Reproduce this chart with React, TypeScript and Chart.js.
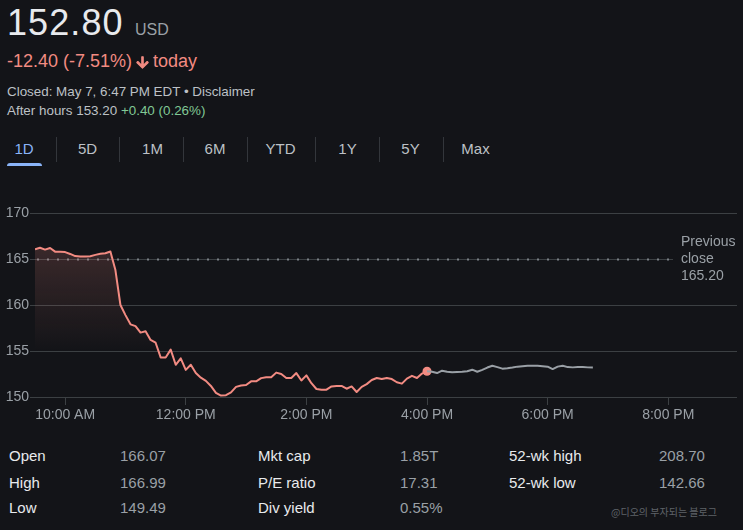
import React, { useEffect, useRef } from "react";
import { Chart, registerables } from "chart.js";

Chart.register(...registerables);

// ---------- data ----------
const PRICE = "152.80";
const CURRENCY = "USD";
const CHANGE_TEXT = "-12.40 (-7.51%)";
const CHANGE_SUFFIX = "today";
const CLOSED_TEXT = "Closed: May 7, 6:47 PM EDT • Disclaimer";
const AFTER_LABEL = "After hours 153.20";
const AFTER_CHANGE = "+0.40 (0.26%)";
const RANGE_TABS = ["1D", "5D", "1M", "6M", "YTD", "1Y", "5Y", "Max"];

const REGULAR_START_HOUR = 9.5; // 9:30 AM
const AFTER_START_HOUR = 16; // 4:00 PM
const STEP_MINUTES = 5;

const REGULAR_PRICES = [
  166.05, 166.22, 166.02, 166.2, 165.8, 165.78, 165.75, 165.55, 165.32, 165.28,
  165.28, 165.3, 165.45, 165.57, 165.62, 165.82, 163.8, 160.0, 158.9, 157.9,
  157.7, 157.0, 157.15, 156.2, 155.9, 154.3, 154.3, 155.15, 153.5, 154.2,
  152.95, 153.5, 152.6, 152.1, 151.75, 151.2, 150.45, 150.15, 150.2, 150.5,
  151.1, 151.25, 151.3, 151.7, 151.7, 152.05, 152.15, 152.15, 152.65, 152.5,
  152.07, 152.07, 152.6, 151.8, 152.35, 151.5, 150.87, 150.8, 150.8, 151.15,
  151.2, 151.2, 150.9, 151.15, 150.54, 151.1, 151.4, 151.85, 152.07, 151.95,
  152.07, 151.95, 151.6, 151.45, 152.0, 152.3, 152.07, 152.55, 152.8,
];

const AFTER_HOURS_PRICES = [
  152.8, 152.75, 152.6, 152.86, 152.75, 152.7, 152.72, 152.75, 152.8, 152.97,
  152.75, 152.95, 153.2, 153.4, 153.25, 153.08, 153.12, 153.2, 153.3, 153.35,
  153.4, 153.4, 153.4, 153.35, 153.3, 153.04, 153.3, 153.4, 153.25, 153.22,
  153.25, 153.25, 153.22, 153.2,
];

const PREV_CLOSE = 165.2;
const Y_MIN = 150;
const Y_MAX = 170;
const Y_TICKS = [150, 155, 160, 165, 170];
const X_MIN = 9.5;
const X_MAX = 21.14;
const X_TICKS = [10, 12, 14, 16, 18, 20];
const X_TICK_LABELS = ["10:00 AM", "12:00 PM", "2:00 PM", "4:00 PM", "6:00 PM", "8:00 PM"];

const STAT_COL1_LABELS = ["Open", "High", "Low"];
const STAT_COL1_VALUES = ["166.07", "166.99", "149.49"];
const STAT_COL2_LABELS = ["Mkt cap", "P/E ratio", "Div yield"];
const STAT_COL2_VALUES = ["1.85T", "17.31", "0.55%"];
const STAT_COL3_LABELS = ["52-wk high", "52-wk low"];
const STAT_COL3_VALUES = ["208.70", "142.66"];
const WATERMARK = "@디오의 부자되는 블로그";

// ---------- style ----------
const FONT = "'Liberation Sans', Arial, Helvetica, sans-serif";
const BG = "#131418";
const WHITE = "#e8eaed";
const GREY = "#9aa0a6";
const LIGHT_GREY = "#bdc1c6";
const RED = "#f28b82";
const GREEN = "#81c995";
const BLUE = "#8ab4f8";
const GRID = "#3c4043";

const TAB_CENTERS = [24, 87.5, 152.5, 215, 280.5, 347.5, 410.5, 475.5];
const TAB_SEPARATORS = [56, 119, 183, 247, 315, 379, 443];

function Txt(props: {
  x: number;
  baseline: number;
  size: number;
  color: string;
  children: React.ReactNode;
  center?: boolean;
  family?: string;
  spacing?: number;
}) {
  const { x, baseline, size, color, children, center, family, spacing } = props;
  return (
    <div
      style={{
        position: "absolute",
        left: x,
        top: baseline - 0.8465 * size,
        fontSize: size,
        lineHeight: `${size}px`,
        color,
        whiteSpace: "nowrap",
        fontFamily: family || FONT,
        letterSpacing: spacing ? `${spacing}px` : undefined,
        transform: center ? "translateX(-50%)" : undefined,
      }}
    >
      {children}
    </div>
  );
}

function nearestGridValue() {
  return Y_TICKS.reduce((a, b) => (Math.abs(b - PREV_CLOSE) < Math.abs(a - PREV_CLOSE) ? b : a));
}

const prevClosePlugin = {
  id: "prevClose",
  beforeDatasetsDraw(chart: any) {
    const { ctx, chartArea, scales } = chart;
    const py = Math.round(scales.y.getPixelForValue(nearestGridValue())) + 0.5;
    const endX = chartArea.right - 64;
    ctx.save();
    ctx.strokeStyle = GRID;
    ctx.lineWidth = 1;
    ctx.beginPath();
    ctx.moveTo(chartArea.left - 5, py);
    ctx.lineTo(endX, py);
    ctx.stroke();
    ctx.fillStyle = "#7b8086";
    for (let x = chartArea.left + 2; x < endX; x += 10) {
      ctx.fillRect(x, py - 1, 2, 2);
    }
    ctx.restore();
  },
  afterDraw(chart: any) {
    const { ctx, chartArea, scales } = chart;
    const py = Math.round(scales.y.getPixelForValue(nearestGridValue()));
    const x = chartArea.right - 56;
    ctx.save();
    ctx.fillStyle = GREY;
    ctx.font = `14px ${FONT}`;
    ctx.textAlign = "left";
    ctx.textBaseline = "middle";
    ctx.fillText("Previous", x, py - 17);
    ctx.fillText("close", x, py);
    ctx.fillText(PREV_CLOSE.toFixed(2), x, py + 17);
    ctx.restore();
  },
};

function PriceChart() {
  const ref = useRef<HTMLCanvasElement | null>(null);
  useEffect(() => {
    if (!ref.current) return;
    const step = STEP_MINUTES / 60;
    const regular = REGULAR_PRICES.map((v, i) => ({ x: REGULAR_START_HOUR + i * step, y: v }));
    const after = AFTER_HOURS_PRICES.map((v, i) => ({ x: AFTER_START_HOUR + i * step, y: v }));
    const lastIdx = regular.length - 1;
    const chart = new Chart(ref.current, {
      type: "line",
      data: {
        datasets: [
          {
            data: after,
            borderColor: GREY,
            borderWidth: 2,
            pointRadius: 0,
            tension: 0,
            fill: false,
            borderJoinStyle: "round",
          },
          {
            data: regular,
            borderColor: RED,
            borderWidth: 2,
            tension: 0,
            borderJoinStyle: "round",
            pointRadius: (c: any) => (c.dataIndex === lastIdx ? 4.5 : 0),
            pointBackgroundColor: RED,
            pointBorderWidth: 0,
            fill: "start",
            backgroundColor: (c: any) => {
              const area = c.chart.chartArea;
              if (!area) return "transparent";
              const g = c.chart.ctx.createLinearGradient(0, area.top, 0, area.top + (area.bottom - area.top) * 0.76);
              g.addColorStop(0, "rgba(242,139,130,0.26)");
              g.addColorStop(0.2, "rgba(242,139,130,0.19)");
              g.addColorStop(1, "rgba(242,139,130,0)");
              return g;
            },
          },
        ],
      },
      options: {
        responsive: false,
        animation: false,
        events: [],
        layout: { padding: { top: 18, right: 6, left: 0, bottom: 0 } },
        plugins: { legend: { display: false }, tooltip: { enabled: false } },
        scales: {
          x: {
            type: "linear",
            min: X_MIN,
            max: X_MAX,
            afterBuildTicks: (s: any) => {
              s.ticks = X_TICKS.map((v) => ({ value: v }));
            },
            afterFit: (s: any) => {
              s.height = 33;
            },
            grid: { drawOnChartArea: false, drawTicks: true, tickLength: 8, color: GRID, tickColor: GRID },
            border: { display: false },
            ticks: {
              color: GREY,
              font: { size: 14, family: FONT },
              padding: 2,
              maxRotation: 0,
              autoSkip: false,
              callback: (v: any) => X_TICK_LABELS[X_TICKS.indexOf(Number(v))],
            },
          },
          y: {
            min: Y_MIN,
            max: Y_MAX,
            afterBuildTicks: (s: any) => {
              s.ticks = Y_TICKS.map((v) => ({ value: v }));
            },
            afterFit: (s: any) => {
              s.width = 35;
            },
            grid: {
              color: (c: any) => (c.tick && c.tick.value === nearestGridValue() ? "transparent" : GRID),
              tickLength: 5,
            },
            border: { display: false },
            ticks: { color: GREY, font: { size: 14, family: FONT }, padding: 1 },
          },
        },
      } as any,
      plugins: [prevClosePlugin],
    });
    return () => chart.destroy();
  }, []);
  return (
    <canvas
      ref={ref}
      width={743}
      height={235}
      style={{ position: "absolute", left: 0, top: 195, width: 743, height: 235 }}
    />
  );
}

export default function App() {
  const rowBase = [461, 487.5, 513];
  return (
    <div
      style={{
        position: "fixed",
        left: 0,
        top: 0,
        width: 743,
        height: 530,
        background: BG,
        overflow: "hidden",
        fontFamily: FONT,
      }}
    >
      <Txt x={7} baseline={35} size={36} color={WHITE} spacing={1.1}>
        {PRICE}
      </Txt>
      <Txt x={135} baseline={35.7} size={16} color={GREY}>
        {CURRENCY}
      </Txt>
      <Txt x={7} baseline={67.7} size={18} color={RED}>
        {CHANGE_TEXT}
      </Txt>
      <svg style={{ position: "absolute", left: 134, top: 54 }} width={17} height={17} viewBox="0 0 24 24">
        <path
          fill={RED}
          stroke={RED}
          strokeWidth={1.6}
          strokeLinejoin="round"
          d="M20 12l-1.41-1.41L13 16.17V4h-2v12.17l-5.58-5.59L4 12l8 8 8-8z"
        />
      </svg>
      <Txt x={153} baseline={67.7} size={18} color={RED}>
        {CHANGE_SUFFIX}
      </Txt>
      <Txt x={7} baseline={96.7} size={13.4} color={LIGHT_GREY}>
        {CLOSED_TEXT}
      </Txt>
      <Txt x={7} baseline={115} size={13.4} color={LIGHT_GREY}>
        {AFTER_LABEL} <span style={{ color: GREEN }}>{AFTER_CHANGE}</span>
      </Txt>

      {RANGE_TABS.map((t, i) => (
        <Txt key={t} x={TAB_CENTERS[i]} baseline={154} size={15} color={i === 0 ? BLUE : LIGHT_GREY} center>
          {t}
        </Txt>
      ))}
      {TAB_SEPARATORS.map((x) => (
        <div key={x} style={{ position: "absolute", left: x, top: 137, width: 1, height: 25, background: "#33363b" }} />
      ))}
      <div
        style={{
          position: "absolute",
          left: 7,
          top: 163,
          width: 35,
          height: 3,
          background: BLUE,
          borderRadius: "3px 3px 0 0",
        }}
      />

      <PriceChart />

      {STAT_COL1_LABELS.map((l, i) => (
        <React.Fragment key={l}>
          <Txt x={9} baseline={rowBase[i]} size={15} color={WHITE}>
            {l}
          </Txt>
          <Txt x={120} baseline={rowBase[i]} size={15} color={GREY}>
            {STAT_COL1_VALUES[i]}
          </Txt>
        </React.Fragment>
      ))}
      {STAT_COL2_LABELS.map((l, i) => (
        <React.Fragment key={l}>
          <Txt x={258} baseline={rowBase[i]} size={15} color={WHITE}>
            {l}
          </Txt>
          <Txt x={400} baseline={rowBase[i]} size={15} color={GREY}>
            {STAT_COL2_VALUES[i]}
          </Txt>
        </React.Fragment>
      ))}
      {STAT_COL3_LABELS.map((l, i) => (
        <React.Fragment key={l}>
          <Txt x={509} baseline={rowBase[i]} size={15} color={WHITE}>
            {l}
          </Txt>
          <Txt x={659} baseline={rowBase[i]} size={15} color={GREY}>
            {STAT_COL3_VALUES[i]}
          </Txt>
        </React.Fragment>
      ))}
      <Txt x={611} baseline={515} size={10} color="#5f6368" family="'Noto Sans CJK KR', sans-serif">
        {WATERMARK}
      </Txt>
    </div>
  );
}
